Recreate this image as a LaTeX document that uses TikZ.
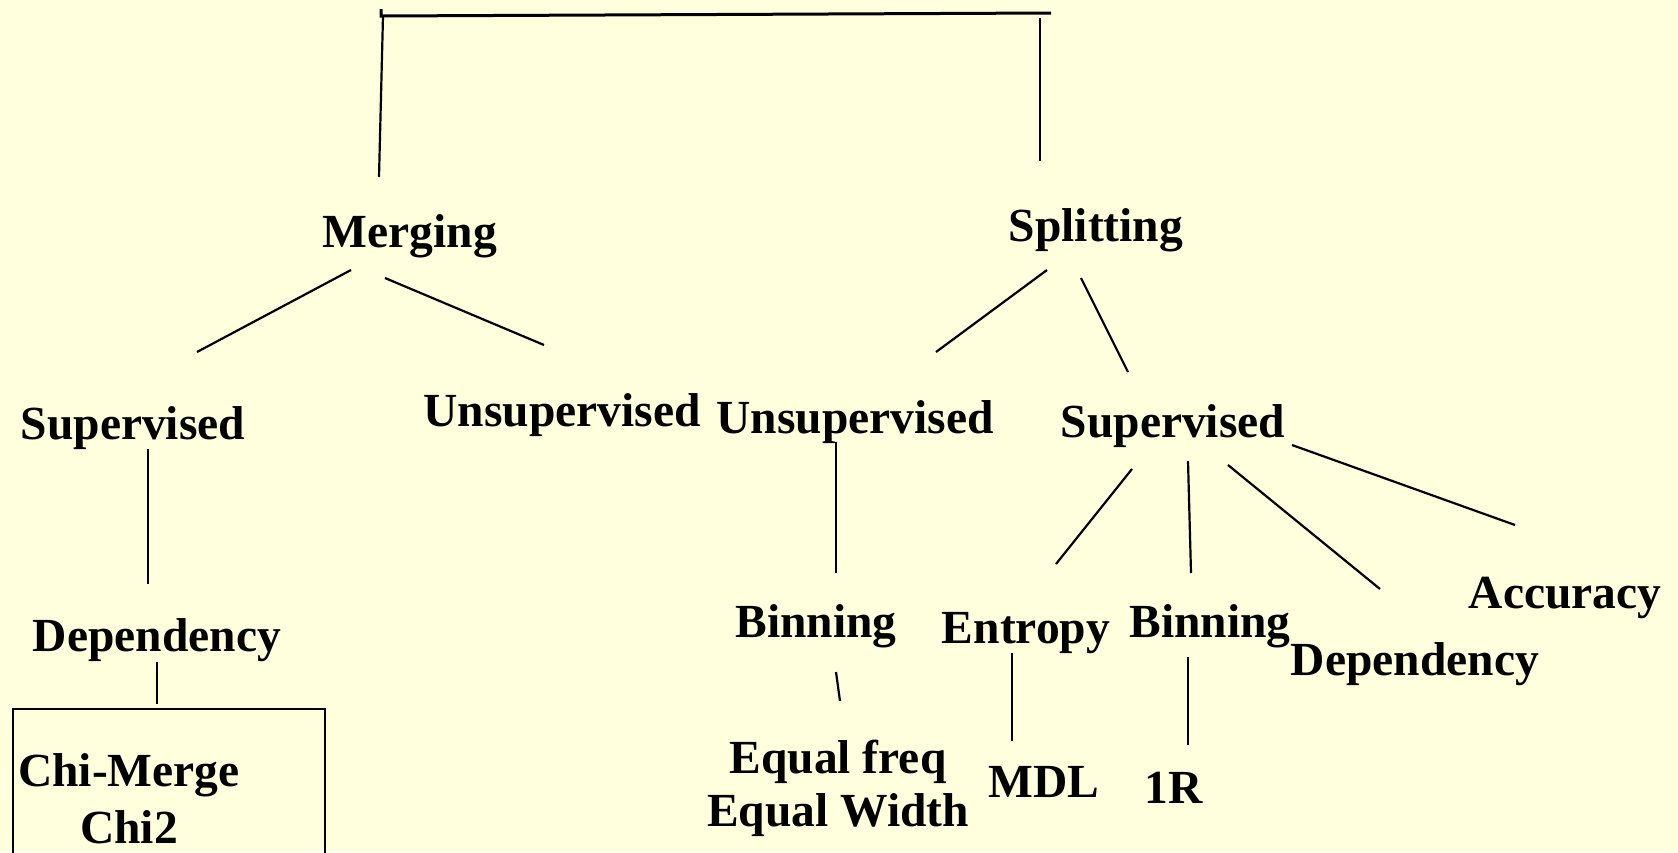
\documentclass[tikz,border=0pt]{standalone}
\usepackage{fontspec}
\setmainfont{Liberation Serif}
\definecolor{bgyellow}{RGB}{255,255,221}
\begin{document}
\begin{tikzpicture}[x=1pt,y=-1pt,
  lbl/.style={anchor=base,inner sep=0pt,font=\fontsize{47.5}{52}\selectfont\bfseries},
  conn/.style={line width=2.2pt,black},
  topconn/.style={line width=3pt,black}]
\useasboundingbox (0,0) rectangle (1678,852);
\fill[bgyellow] (0,0) rectangle (1678,852);

% text nodes
\node[lbl] (merging) at (410,247) {Merging};
\node[lbl] (splitting) at (1096,241) {Splitting};
\node[lbl] (supL) at (133,439) {Supervised};
\node[lbl] (unsupL) at (562,426) {Unsupervised};
\node[lbl] (unsupR) at (855,433) {Unsupervised};
\node[lbl] (supR) at (1173,437) {Supervised};
\node[lbl] (depL) at (157,651) {Dependency};
\node[lbl,anchor=base west] (chimerge) at (18,786) {Chi-Merge};
\node[lbl,anchor=base west] (chitwo) at (80,843) {Chi2};
\node[draw,line width=2.2pt,anchor=north west,minimum width=312pt,minimum height=170pt,inner sep=0pt] (box) at (12,708) {};
\node[lbl] (binL) at (816,637) {Binning};
\node[lbl] (eqfreq) at (838,773) {Equal freq};
\node[lbl] (eqwidth) at (838,826) {Equal Width};
\node[lbl] (entropy) at (1026,643) {Entropy};
\node[lbl] (binR) at (1210,637) {Binning};
\node[lbl] (depR) at (1415,675) {Dependency};
\node[lbl] (accuracy) at (1565,608) {Accuracy};
\node[lbl] (mdl) at (1044,797) {MDL};
\node[lbl] (oner) at (1174,803) {1R};

% connector end points
\coordinate (tl) at (381,16);
\coordinate (tr) at (1051,13);
\coordinate (ttick) at (381,9);
\coordinate (mTop) at (383,16);
\coordinate (mBot) at (379,177);
\coordinate (sTop) at (1040,18);
\coordinate (sBot) at (1040,161);

\coordinate (m1a) at (351,270); \coordinate (m1b) at (197,352);
\coordinate (m2a) at (385,278); \coordinate (m2b) at (544,345);
\coordinate (s1a) at (1047,270); \coordinate (s1b) at (936,352);
\coordinate (s2a) at (1081,278); \coordinate (s2b) at (1128,372);

\coordinate (sl1a) at (148,449); \coordinate (sl1b) at (148,584);
\coordinate (dl1a) at (157,662); \coordinate (dl1b) at (157,704);

\coordinate (ur1a) at (836,442); \coordinate (ur1b) at (836,573);
\coordinate (bl1a) at (836,672); \coordinate (bl1b) at (840,701);

\coordinate (sr1a) at (1132,469); \coordinate (sr1b) at (1056,564);
\coordinate (sr2a) at (1188,461); \coordinate (sr2b) at (1191,573);
\coordinate (sr3a) at (1228,465); \coordinate (sr3b) at (1380,589);
\coordinate (sr4a) at (1292,445); \coordinate (sr4b) at (1515,525);

\coordinate (en1a) at (1012,653); \coordinate (en1b) at (1012,741);
\coordinate (br1a) at (1188,657); \coordinate (br1b) at (1188,745);

% connectors
\draw[topconn] (ttick) -- (tl) -- (tr);
\draw[conn] (mTop) -- (mBot);
\draw[conn] (sTop) -- (sBot);
\draw[conn] (m1a) -- (m1b);
\draw[conn] (m2a) -- (m2b);
\draw[conn] (s1a) -- (s1b);
\draw[conn] (s2a) -- (s2b);
\draw[conn] (sl1a) -- (sl1b);
\draw[conn] (dl1a) -- (dl1b);
\draw[conn] (ur1a) -- (ur1b);
\draw[conn] (bl1a) -- (bl1b);
\draw[conn] (sr1a) -- (sr1b);
\draw[conn] (sr2a) -- (sr2b);
\draw[conn] (sr3a) -- (sr3b);
\draw[conn] (sr4a) -- (sr4b);
\draw[conn] (en1a) -- (en1b);
\draw[conn] (br1a) -- (br1b);
\end{tikzpicture}
\end{document}
